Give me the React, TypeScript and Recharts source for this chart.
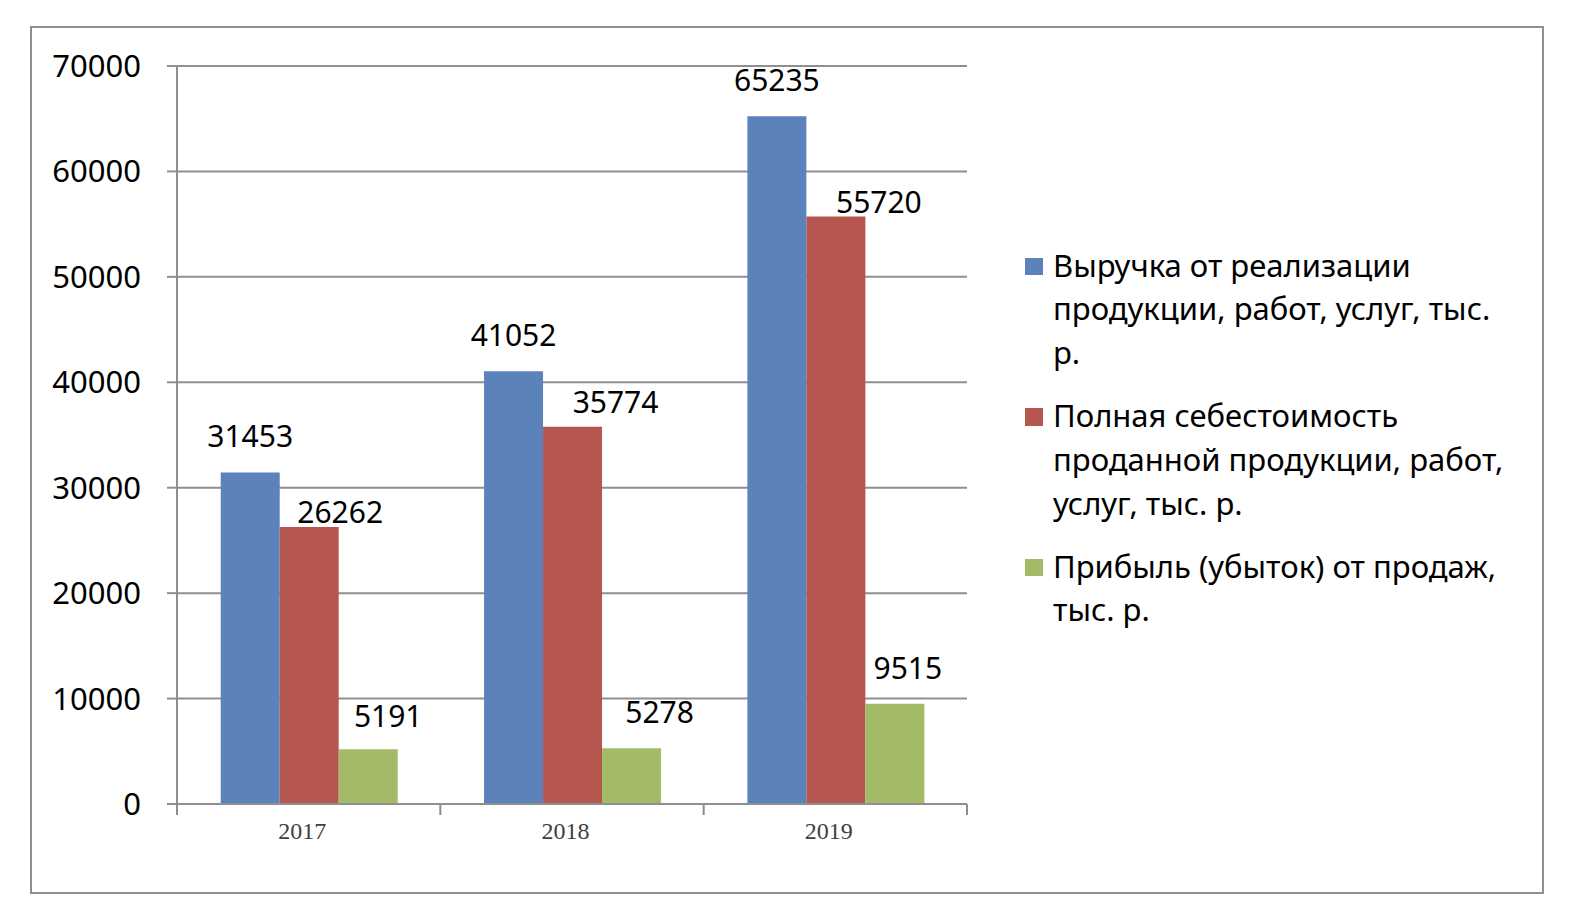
import { BarChart, Bar, XAxis, YAxis, CartesianGrid, Legend, LabelList } from 'recharts';

const years = ['2017', '2018', '2019'];
const revenue = [31453, 41052, 65235];
const cost = [26262, 35774, 55720];
const profit = [5191, 5278, 9515];
const yTicks = [0, 10000, 20000, 30000, 40000, 50000, 60000, 70000];

const SERIES = [
  { key: 'revenue', color: '#5b82bb', lines: ['Выручка от реализации', 'продукции, работ, услуг, тыс.', 'р.'] },
  { key: 'cost', color: '#b5574f', lines: ['Полная себестоимость', 'проданной продукции, работ,', 'услуг, тыс. р.'] },
  { key: 'profit', color: '#a3bb66', lines: ['Прибыль (убыток) от продаж,', 'тыс. р.'] },
];

const data = years.map((year, i) => ({
  year,
  revenue: revenue[i],
  cost: cost[i],
  profit: profit[i],
}));

const FONT = '"Noto Sans", "Open Sans", sans-serif';
const GRAY = '#8f8f8f';
const X_TICK_SIZE = 8;
const X_TICK_MARGIN = 10;

// сдвиги подписей значений (как в исходной диаграмме подписи слегка смещены)
const LABEL_SHIFT: Record<string, { dx: number[]; lift: number[] }> = {
  revenue: { dx: [0, 0, 0], lift: [25, 25, 25] },
  cost: { dx: [31, 43, 43], lift: [4, 14, 4] },
  profit: { dx: [20, 28, 13], lift: [22, 25, 25] },
};

const makeLabel = (key: string) => (props: any) => {
  const { x, y, width, value, index } = props;
  const s = LABEL_SHIFT[key];
  return (
    <text
      x={x + width / 2 + s.dx[index]}
      y={y - s.lift[index]}
      textAnchor="middle"
      fontFamily={FONT}
      fontSize={30}
      fill="#000"
    >
      {value}
    </text>
  );
};

// подпись года + засечки на границах категорий
const YearTick = (props: any) => {
  const { x, y, payload, index, visibleTicksCount } = props;
  const half = payload.offset || 0;
  const axisY = y - X_TICK_SIZE - X_TICK_MARGIN;
  return (
    <g>
      <line x1={x - half} x2={x - half} y1={axisY} y2={axisY + 11} stroke={GRAY} strokeWidth={2} />
      {index === visibleTicksCount - 1 && (
        <line x1={x + half} x2={x + half} y1={axisY} y2={axisY + 11} stroke={GRAY} strokeWidth={2} />
      )}
      <text
        x={x - 6.5}
        y={y}
        dy="0.71em"
        textAnchor="middle"
        fontFamily='"Liberation Serif", "DejaVu Serif", serif'
        fontSize={24}
        fill="#404040"
      >
        {payload.value}
      </text>
    </g>
  );
};

const LegendContent = () => (
  <div style={{ fontFamily: FONT, fontSize: 31, lineHeight: '43.7px', color: '#000' }}>
    {SERIES.map((s) => (
      <div key={s.key} style={{ display: 'flex', marginBottom: 19.5 }}>
        <div
          style={{
            width: 17.5,
            height: 17.5,
            background: s.color,
            marginTop: 14,
            marginRight: 10.5,
            flexShrink: 0,
          }}
        />
        <div>
          {s.lines.map((l, j) => (
            <div key={j} style={{ whiteSpace: 'nowrap' }}>{l}</div>
          ))}
        </div>
      </div>
    ))}
  </div>
);

const App = () => {
  return (
    <div
      style={{
        position: 'fixed',
        left: 0,
        top: 0,
        width: 1576,
        height: 916,
        overflow: 'hidden',
        background: '#fff',
      }}
    >
      <div
        style={{
          position: 'absolute',
          left: 29.5,
          top: 25.7,
          width: 1510,
          height: 864.6,
          border: `2px solid ${GRAY}`,
        }}
      />
      <div style={{ position: 'absolute', left: 0, top: 0 }}>
        <BarChart
          width={1576}
          height={916}
          data={data}
          margin={{ top: 66, right: 609, bottom: 42, left: 0 }}
          barCategoryGap="16.6%"
          barGap={0}
        >
          <CartesianGrid vertical={false} stroke={GRAY} strokeWidth={2} />
          <XAxis
            dataKey="year"
            axisLine={{ stroke: GRAY, strokeWidth: 2 }}
            tickLine={false}
            tickSize={X_TICK_SIZE}
            tickMargin={X_TICK_MARGIN}
            height={70}
            interval={0}
            tick={<YearTick />}
          />
          <YAxis
            domain={[0, 70000]}
            ticks={yTicks}
            interval={0}
            width={177}
            axisLine={{ stroke: GRAY, strokeWidth: 2 }}
            tickLine={{ stroke: GRAY, strokeWidth: 2 }}
            tickSize={10}
            tickMargin={26}
            tick={{ fontFamily: FONT, fontSize: 31, fill: '#000' }}
          />
          <Legend
            layout="vertical"
            align="center"
            verticalAlign="middle"
            content={<LegendContent />}
            wrapperStyle={{ left: 1025, top: 243.5, width: 540, height: 'auto' }}
          />
          {SERIES.map((s) => (
            <Bar key={s.key} dataKey={s.key} fill={s.color} isAnimationActive={false}>
              <LabelList dataKey={s.key} content={makeLabel(s.key)} />
            </Bar>
          ))}
        </BarChart>
      </div>
    </div>
  );
};

export default App;
